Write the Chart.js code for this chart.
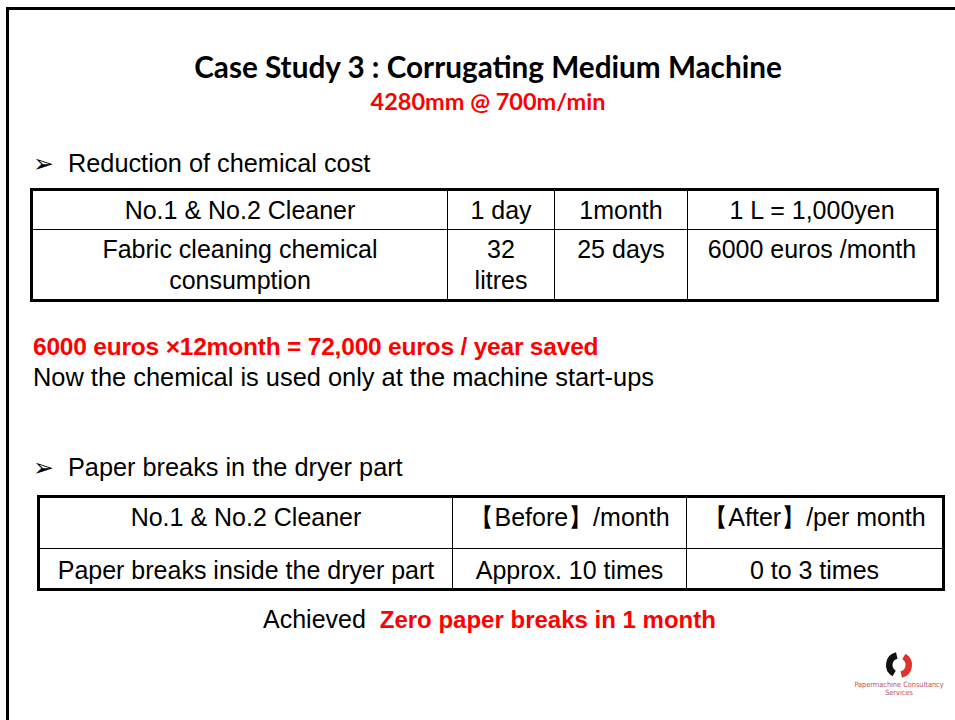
<!DOCTYPE html>
<html>
<head>
<meta charset="utf-8">
<script src="https://cdn.jsdelivr.net/npm/chart.js@4"></script>
<style>
    html, body { margin: 0; padding: 0; background: #fff; }
    body { width: 955px; height: 720px; position: relative; overflow: hidden; font-family: "Liberation Sans", Arial, sans-serif; color: #000; }
    .frame-top { position: absolute; left: 6px; top: 7px; width: 949px; height: 3px; background: #000; }
    .frame-left { position: absolute; left: 6px; top: 7px; width: 3px; height: 713px; background: #000; }
    .abs { position: absolute; white-space: nowrap; line-height: 30px; }
    .title { left: 0; width: 976px; top: 52px; text-align: center; font-family: Lato, "Open Sans", sans-serif; font-weight: bold; font-size: 29.7px; }
    .subtitle { left: 0; width: 976px; top: 86px; text-align: center; font-family: Lato, "Open Sans", sans-serif; font-weight: bold; font-size: 23.5px; color: #ff0000; }
    .bullet { font-size: 25.3px; }
    .bullet .arrow { display: inline-block; width: 35px; font-family: "DejaVu Sans", sans-serif; font-size: 25px; vertical-align: 0px; }
    .red { color: #ff0000; }
    table { position: absolute; border-collapse: collapse; border: 3px solid #000; table-layout: fixed; }
    td { border: 1px solid #000; text-align: center; font-size: 25px; padding: 0; line-height: 31px; white-space: nowrap; }
    .logo-text { font-family: "DejaVu Sans Condensed", "Liberation Sans", sans-serif; font-size: 7.3px; color: #c0504d; text-align: center; line-height: 8px; }
</style>
</head>
<body>
<div class="frame-top"></div>
<div class="frame-left"></div>

<div class="abs title" id="title"></div>
<div class="abs subtitle" id="subtitle"></div>

<div class="abs bullet" style="left:33px; top:148px;"><span class="arrow">&#10146;</span><span id="bullet1"></span></div>
<table id="costTable" style="left:30px; top:188px; width:906px;"></table>

<div class="abs red" id="savedLine" style="left:33px; top:332px; font-size:24.5px; font-weight:bold; letter-spacing:-0.2px;"></div>
<div class="abs" id="nowLine" style="left:33px; top:362px; font-size:25.4px;"></div>

<div class="abs bullet" style="left:33px; top:452px;"><span class="arrow">&#10146;</span><span id="bullet2"></span></div>
<table id="breakTable" style="left:37px; top:495px; width:905px;"></table>

<div class="abs" style="left:263px; top:604px; font-size:25px;"><span id="achieved"></span>&nbsp;&nbsp;<span class="red" id="achievedRed" style="font-weight:bold; font-size:24px;"></span></div>

<div class="abs" style="left:877px; top:652px; width:44px; height:26px;"><canvas id="logo" width="44" height="26"></canvas></div>
<div class="abs logo-text" style="left:846px; top:681px; width:106px;">Papermachine Consultancy<br>Services</div>

<script>
const titleText = 'Case Study 3 : Corrugating Medium Machine'
const subtitleText = '4280mm @ 700m/min'

const costHeader = ['No.1 & No.2 Cleaner', '1 day', '1month', '1 L = 1,000yen']
const costRow = ['Fabric cleaning chemical\nconsumption', '32\nlitres', '25 days', '6000 euros /month']
const costWidths = [416, 107, 133, 250]

const breakHeader = ['No.1 & No.2 Cleaner', '【Before】/month', '【After】/per month']
const breakRow = ['Paper breaks inside the dryer part', 'Approx. 10 times', '0 to 3 times']
const breakWidths = [414, 234, 257]

const logoShares = [38, 12, 38, 12]
const logoColors = ['#111111', 'rgba(0,0,0,0)', '#e0322b', 'rgba(0,0,0,0)']

document.getElementById('title').textContent = titleText
document.getElementById('subtitle').textContent = subtitleText
document.getElementById('bullet1').textContent = 'Reduction of chemical cost'
document.getElementById('bullet2').textContent = 'Paper breaks in the dryer part'
document.getElementById('savedLine').textContent = '6000 euros ×12month = 72,000 euros / year saved'
document.getElementById('nowLine').textContent = 'Now the chemical is used only at the machine start-ups'
document.getElementById('achieved').textContent = 'Achieved'
document.getElementById('achievedRed').textContent = 'Zero paper breaks in 1 month'

function buildTable(id, widths, rows, heights, aligns) {
    const table = document.getElementById(id)
    const colgroup = document.createElement('colgroup')
    widths.forEach(w => {
        const col = document.createElement('col')
        col.style.width = w + 'px'
        colgroup.appendChild(col)
    })
    table.appendChild(colgroup)
    rows.forEach((row, r) => {
        const tr = document.createElement('tr')
        tr.style.height = heights[r] + 'px'
        row.forEach(text => {
            const td = document.createElement('td')
            td.style.verticalAlign = aligns[r]
            td.style.whiteSpace = 'pre-line'
            td.textContent = text
            tr.appendChild(td)
        })
        table.appendChild(tr)
    })
}

buildTable('costTable', costWidths, [costHeader, costRow], [40, 71], ['middle', 'top'])
buildTable('breakTable', breakWidths, [breakHeader, breakRow], [52, 41], ['top', 'middle'])
document.querySelectorAll('#costTable tr:nth-child(3) td').forEach(td => td.style.paddingTop = '4px')
document.querySelectorAll('#breakTable tr:nth-child(2) td').forEach(td => td.style.paddingTop = '4px')
document.querySelectorAll('#breakTable tr:nth-child(3) td').forEach(td => td.style.paddingTop = '3px')

new Chart(document.getElementById('logo'), {
    type: 'doughnut',
    data: {
        datasets: [{
            data: logoShares,
            backgroundColor: logoColors,
            borderWidth: 0
        }]
    },
    options: {
        animation: false,
        responsive: false,
        cutout: '50%',
        rotation: 210,
        plugins: {
            legend: { display: false },
            tooltip: { enabled: false }
        }
    }
})
</script>
</body>
</html>
